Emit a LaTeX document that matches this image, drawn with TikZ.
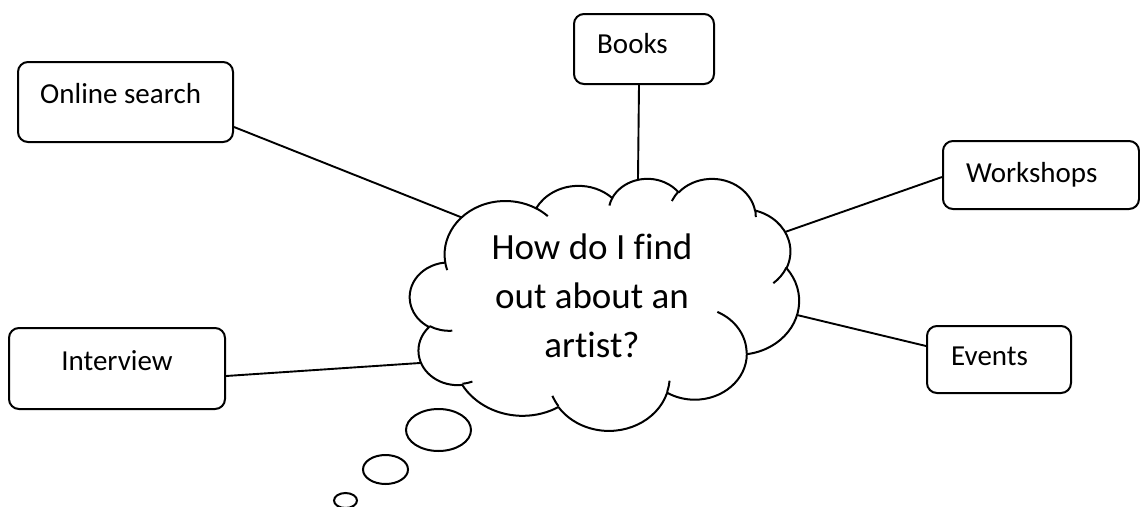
\documentclass[tikz,border=0pt]{standalone}
\usepackage{fontspec}
\setmainfont{Carlito}[Ligatures=NoCommon]
\usetikzlibrary{calc,shapes.geometric}
\newcommand\sxf{0.900463}
\newcommand\syf{0.583333}
% arc of the Office cloud: name, wR, hR (path units/100), start angle, sweep (deg, visual)
\newcommand\mkarc[5]{%
  \pgfmathsetmacro\tmpa{atan2((#2)*sin(#4),(#3)*cos(#4))}%
  \pgfmathsetmacro\tmpb{atan2((#2)*sin((#4)+(#5)),(#3)*cos((#4)+(#5)))}%
  \pgfmathsetmacro\tmpd{mod(\tmpb-\tmpa+720,360)}%
  \pgfmathsetmacro\tmps{-1*(\tmpa)}%
  \pgfmathsetmacro\tmpe{-1*(\tmpd)}%
  \pgfmathsetmacro\tmpx{(#2)*\sxf}%
  \pgfmathsetmacro\tmpy{(#3)*\syf}%
  \expandafter\xdef\csname cl#1\endcsname{arc[start angle=\tmps, delta angle=\tmpe, x radius=\tmpx pt, y radius=\tmpy pt]}%
}
\mkarc{A}{67.53}{91.90}{-190.4875}{123.7805}
\mkarc{B}{53.33}{72.67}{-144.1024}{89.9452}
\mkarc{C}{43.65}{59.45}{-145.8079}{99.7230}
\mkarc{D}{48.57}{65.95}{-130.9861}{117.2417}
\mkarc{E}{53.33}{72.73}{-78.7089}{109.0269}
\mkarc{F}{67.75}{92.20}{-46.2673}{130.2690}
\mkarc{G}{57.85}{78.67}{0.6250}{114.0333}
\mkarc{H}{67.52}{92.15}{22.4516}{115.1726}
\mkarc{I}{77.20}{105.43}{66.2426}{75.7110}
\mkarc{J}{43.60}{59.18}{-274.9421}{146.7356}
\mkarc{K}{43.45}{59.45}{-246.8285}{152.5189}
\mkarc{a}{43.45}{59.45}{86.7420}{26.4295}
\mkarc{b}{43.60}{59.18}{73.6105}{11.4475}
\mkarc{c}{67.52}{92.15}{137.6242}{14.0811}
\mkarc{d}{67.52}{92.15}{6.4533}{15.9984}
\mkarc{e}{57.85}{78.67}{-70.2924}{70.9174}
\mkarc{f}{53.33}{72.73}{30.3180}{27.7515}
\mkarc{g}{48.57}{65.95}{-13.7443}{14.8589}
\mkarc{h}{48.57}{65.95}{-149.1815}{18.1954}
\mkarc{i}{43.65}{59.45}{-163.4943}{17.6864}
\mkarc{j}{67.53}{91.90}{-66.7070}{12.3194}
\mkarc{k}{67.53}{91.90}{157.6544}{11.8582}
\tikzset{
  box/.style={draw, line width=2pt, rounded corners=10pt, anchor=north west, inner sep=0pt},
  lbl/.style={anchor=base west, inner sep=0pt, font=\fontsize{29}{35}\selectfont},
  conn/.style={line width=1.9pt, shorten >=-10pt},
  cloudline/.style={line width=2pt, line join=round},
  bubble/.style={draw, ellipse, line width=2pt, inner sep=0pt}
}
\begin{document}
\begin{tikzpicture}[x=1pt, y=-1pt]
\useasboundingbox (0,0) rectangle (1140,506);
% boxes
\node[box, minimum width=215pt, minimum height=80pt] (online) at (17,61) {};
\node[box, minimum width=140pt, minimum height=70pt] (books) at (573,13) {};
\node[box, minimum width=196pt, minimum height=68pt] (work) at (942,140) {};
\node[box, minimum width=144pt, minimum height=67pt] (events) at (926,325) {};
\node[box, minimum width=216pt, minimum height=81pt] (inter) at (8,327) {};
\node[lbl] (onlineT) at (40,103) {Online search};
\node[lbl] (booksT) at (597,53) {Books};
\node[lbl] (workT) at (966,182) {Workshops};
\node[lbl] (eventsT) at (951,365) {Events};
\node[lbl, anchor=base] (interT) at (117,370) {Interview};
% connector ends on the cloud
\coordinate (cOnline) at (458,216);
\coordinate (cBooks) at (638,178);
\coordinate (cWork) at (785,232);
\coordinate (cEvents) at (797,315);
\coordinate (cInter) at (420,363);
\draw[conn] ([yshift=-25pt]online.east) -- (cOnline);
\draw[conn] ([xshift=-5pt]books.south) -- (cBooks);
\draw[conn] ([yshift=-2pt]work.west) -- (cWork);
\draw[conn] ([yshift=13.5pt]events.west) -- (cEvents);
\draw[conn] ([yshift=-7.5pt]inter.east) -- (cInter);
% cloud
\begin{scope}[shift={(410,178)}, x=0.900463pt, y=-0.583333pt]
\draw[cloudline, fill=white] (39.00,143.70) \clA \clB \clC \clD \clE \clF \clG \clH \clI \clJ \clK -- cycle;
\draw[cloudline] (46.93,261.77) \cla;
\draw[cloudline] (69.28,348.99) \clb;
\draw[cloudline] (164.78,390.90) \clc;
\draw[cloudline] (288.27,347.51) \cld;
\draw[cloudline] (341.29,229.54) \cle;
\draw[cloudline] (417.98,153.54) \clf;
\draw[cloudline] (383.24,54.26) \clg;
\draw[cloudline] (290.78,39.52) \clh;
\draw[cloudline] (221.41,47.20) \cli;
\draw[cloudline] (140.00,51.92) \clj;
\draw[cloudline] (41.27,157.89) \clk;
\end{scope}
% thought bubbles
\node[bubble, minimum width=65pt, minimum height=42pt] (b1) at (438.5,430) {};
\node[bubble, minimum width=45pt, minimum height=29pt] (b2) at (385.5,469.5) {};
\node[bubble, minimum width=23pt, minimum height=15pt] (b3) at (345.5,500.5) {};
% question
\node[font=\fontsize{37}{49}\selectfont, align=center, anchor=base, inner sep=0pt] (q) at (592,357) {How do I find\\out about an\\artist?};
\end{tikzpicture}
\end{document}
